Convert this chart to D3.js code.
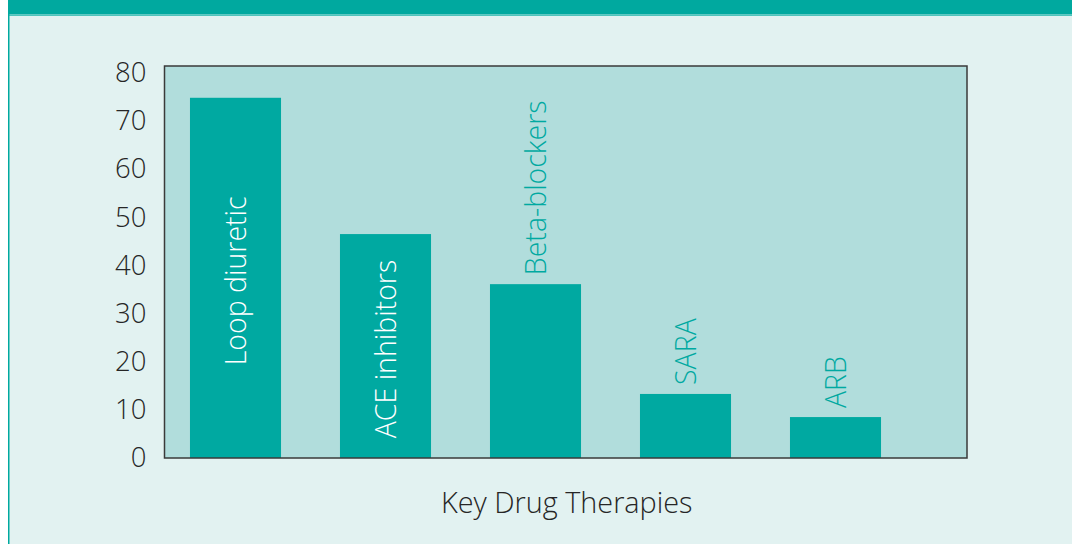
<!DOCTYPE html>
<html>
<head>
<meta charset="utf-8">
<script src="https://cdn.jsdelivr.net/npm/d3@7"></script>
<style>
  html, body { margin: 0; padding: 0; background: #ffffff; }
  svg { display: block; }
  text { font-family: "Open Sans", "Noto Sans", sans-serif; font-weight: 300; }
</style>
</head>
<body>
<svg id="chart" width="1072" height="544"></svg>
<script>
// ---- data ----
const categories = ["Loop diuretic", "ACE inhibitors", "Beta-blockers", "SARA", "ARB"];
const values = [74.8, 46.5, 36.1, 13.3, 8.5];
const labelInside = [true, true, false, false, false];
const yTicks = [0, 10, 20, 30, 40, 50, 60, 70, 80];
const xTitle = "Key Drug Therapies";

// ---- layout ----
const W = 1072, H = 544;
const plot = { left: 164.5, right: 967, top: 66, bottom: 458 };
const colors = {
  page: "#e2f2f1", header: "#00a99f", headerLine: "#4fc4bc",
  plotBg: "#b1dddc", bar: "#00a9a1", frame: "#3a3a3a", text: "#262626"
};

const svg = d3.select("#chart");

// page background
svg.append("rect").attr("x", 8).attr("y", 0).attr("width", W - 8).attr("height", H).attr("fill", colors.page);
// header band
svg.append("rect").attr("x", 8).attr("y", 0).attr("width", W - 8).attr("height", 14.5).attr("fill", colors.header);
svg.append("rect").attr("x", 8).attr("y", 14.5).attr("width", W - 8).attr("height", 1.5).attr("fill", colors.headerLine);
// left border
svg.append("rect").attr("x", 8).attr("y", 0).attr("width", 1.5).attr("height", H).attr("fill", colors.header);

// scales
const y = d3.scaleLinear().domain([0, 81.4]).range([plot.bottom, plot.top]);
const x = d3.scaleBand().domain(categories)
  .range([160.5, 910.5]).paddingInner(0.393).paddingOuter(0.1965);

// plot background
svg.append("rect").attr("x", plot.left).attr("y", plot.top)
  .attr("width", plot.right - plot.left).attr("height", plot.bottom - plot.top)
  .attr("fill", colors.plotBg);

// bars
const data = categories.map((c, i) => ({ c, v: values[i], inside: labelInside[i] }));
svg.append("g").selectAll("rect").data(data).join("rect")
  .attr("x", d => x(d.c)).attr("width", x.bandwidth())
  .attr("y", d => y(d.v)).attr("height", d => y(0) - y(d.v))
  .attr("fill", colors.bar);

// bar labels (rotated)
svg.append("g").selectAll("text").data(data).join("text")
  .attr("transform", d => {
    const cx = x(d.c) + x.bandwidth() / 2;
    const cy = d.inside ? (y(d.v) + y(0)) / 2 + 3 : y(d.v) - 9;
    return `translate(${cx},${cy}) rotate(-90)`;
  })
  .attr("text-anchor", d => d.inside ? "middle" : "start")
  .attr("dy", "0.36em")
  .attr("font-size", 28.5)
  .attr("fill", d => d.inside ? "#ffffff" : colors.bar)
  .text(d => d.c);

// frame
svg.append("rect").attr("x", plot.left).attr("y", plot.top)
  .attr("width", plot.right - plot.left).attr("height", plot.bottom - plot.top)
  .attr("fill", "none").attr("stroke", colors.frame).attr("stroke-width", 1.5);

// y axis tick labels
const yAxis = d3.axisLeft(y).tickValues(yTicks).tickSize(0).tickPadding(18);
const gy = svg.append("g").attr("transform", `translate(${plot.left},0)`).call(yAxis);
gy.select(".domain").remove();
gy.selectAll("text").attr("font-size", 27.5).attr("fill", colors.text)
  .attr("font-family", "\"Open Sans\", \"Noto Sans\", sans-serif").attr("font-weight", 300);

// x axis title
svg.append("text").attr("x", (plot.left + plot.right) / 2 + 1).attr("y", 513)
  .attr("text-anchor", "middle").attr("font-size", 28.8).attr("fill", colors.text)
  .text(xTitle);
</script>
</body>
</html>
